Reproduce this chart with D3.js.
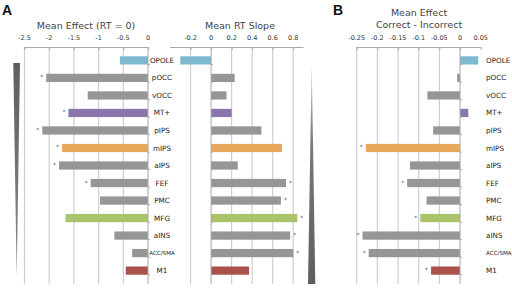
<!DOCTYPE html>
<html>
<head>
<meta charset="utf-8">
<script src="https://cdn.jsdelivr.net/npm/d3@7"></script>
<style>
  body { margin: 0; background: #fff; }
  svg { display: block; font-family: "DejaVu Sans", Verdana, sans-serif; }
</style>
</head>
<body>
<svg id="chart" width="512" height="291"></svg>
<script>
// regions, top to bottom
const regions = ["OPOLE", "pOCC", "vOCC", "MT+", "pIPS", "mIPS", "aIPS", "FEF", "PMC", "MFG", "aINS", "ACC/SMA", "M1"];
// mean effect at RT = 0
const meanEffect = [-0.57, -2.06, -1.22, -1.61, -2.14, -1.74, -1.80, -1.16, -0.97, -1.67, -0.68, -0.32, -0.45];
// mean RT slope
const rtSlope = [-0.30, 0.23, 0.15, 0.20, 0.49, 0.69, 0.26, 0.73, 0.68, 0.84, 0.77, 0.80, 0.37];
// correct - incorrect
const corrIncorr = [0.044, -0.007, -0.079, 0.020, -0.065, -0.228, -0.121, -0.128, -0.081, -0.096, -0.236, -0.221, -0.070];
// significant regions (asterisks)
const sigEffect = ["pOCC", "MT+", "pIPS", "mIPS", "aIPS", "FEF"];
const sigSlope = ["FEF", "PMC", "MFG", "aINS", "ACC/SMA"];
const sigCorr = ["mIPS", "FEF", "MFG", "aINS", "ACC/SMA", "M1"];
// tick labels
const ticksEffect = [-2.5, -2, -1.5, -1, -0.5, 0];
const ticksSlope = [-0.2, 0, 0.2, 0.4, 0.6, 0.8];
const ticksCorr = [-0.25, -0.2, -0.15, -0.1, -0.05, 0, 0.05];

const regionColor = {
    "OPOLE": "#7db9d1",
    "MT+": "#8b75ae",
    "mIPS": "#e8a85b",
    "MFG": "#a9c46b",
    "M1": "#a9524b"
};
const grayBar = "#969696";
const gridColor = "#cfcfcf";
const axisColor = "#a8a8a8";

const svg = d3.select("#chart");

const plotTop = 47, plotBottom = 284;
const y = d3.scaleBand().domain(regions).range([plotTop, plotBottom]).padding(0.53);

const defs = svg.append("defs");
const gradDown = defs.append("linearGradient").attr("id", "wedgeDown")
    .attr("x1", 0).attr("y1", 0).attr("x2", 0).attr("y2", 1);
gradDown.append("stop").attr("offset", "0%").attr("stop-color", "#5e5e5e");
gradDown.append("stop").attr("offset", "100%").attr("stop-color", "#8a8a8a");
const gradUp = defs.append("linearGradient").attr("id", "wedgeUp")
    .attr("x1", 0).attr("y1", 0).attr("x2", 0).attr("y2", 1);
gradUp.append("stop").attr("offset", "0%").attr("stop-color", "#d5d5d5");
gradUp.append("stop").attr("offset", "35%").attr("stop-color", "#7a7a7a");
gradUp.append("stop").attr("offset", "100%").attr("stop-color", "#5e5e5e");

// draws one bar panel
const drawPanel = (cfg) => {
    const x = d3.scaleLinear().domain(cfg.domain).range(cfg.range);
    const g = svg.append("g");

    // gridlines
    g.selectAll("line.grid")
        .data(cfg.ticks.filter(t => t !== 0 && !cfg.noGrid.includes(t)))
        .enter().append("line")
        .attr("x1", d => x(d)).attr("x2", d => x(d))
        .attr("y1", plotTop).attr("y2", plotBottom)
        .attr("stroke", gridColor).attr("stroke-width", 1.2);

    // top axis
    const axis = d3.axisBottom(x).tickValues(cfg.ticks).tickSize(3).tickFormat(d => String(d));
    const ag = g.append("g").attr("transform", `translate(0,${plotTop})`).call(axis);
    ag.select(".domain").attr("stroke", axisColor).attr("d", `M${cfg.range[0]},0.5H${cfg.range[1]}`);
    ag.selectAll(".tick line").attr("stroke", axisColor);
    ag.selectAll(".tick text").remove();
    g.selectAll("text.tick")
        .data(cfg.ticks)
        .enter().append("text")
        .attr("x", d => x(d)).attr("y", plotTop - 7)
        .attr("text-anchor", "middle")
        .attr("font-size", 6.5).attr("fill", "#333")
        .text(d => String(d));

    // bars
    g.selectAll("rect.bar")
        .data(cfg.values)
        .enter().append("rect")
        .attr("x", d => x(Math.min(0, d)))
        .attr("width", d => Math.abs(x(d) - x(0)))
        .attr("y", (d, i) => y(regions[i]))
        .attr("height", y.bandwidth())
        .attr("fill", (d, i) => regionColor[regions[i]] || grayBar);

    // zero axis with minor ticks between rows
    g.append("line")
        .attr("x1", x(0)).attr("x2", x(0)).attr("y1", plotTop).attr("y2", plotBottom)
        .attr("stroke", axisColor).attr("stroke-width", 1);
    g.selectAll("line.minor")
        .data(d3.range(1, regions.length + 1))
        .enter().append("line")
        .attr("x1", x(0)).attr("x2", x(0) + 2)
        .attr("y1", i => plotTop + i * y.step()).attr("y2", i => plotTop + i * y.step())
        .attr("stroke", axisColor);

    // asterisks
    g.selectAll("text.star")
        .data(cfg.values.map((v, i) => ({v, r: regions[i]})).filter(d => cfg.sig.includes(d.r)))
        .enter().append("text")
        .attr("x", d => x(d.v) + (d.v < 0 ? -4.5 : 4.5))
        .attr("y", d => y(d.r) + y.bandwidth() / 2 + 1.5)
        .attr("text-anchor", "middle")
        .attr("font-size", 6).attr("fill", "#555")
        .text("*");

    // title
    cfg.title.forEach((t, i) => {
        svg.append("text")
            .attr("x", cfg.titleX).attr("y", cfg.titleY + i * 12)
            .attr("text-anchor", "middle")
            .attr("font-size", 9.5).attr("fill", "#444")
            .text(t);
    });
    return x;
};

drawPanel({
    domain: [-2.5, 0], range: [24.5, 148], ticks: ticksEffect, noGrid: [],
    values: meanEffect, sig: sigEffect, title: ["Mean Effect (RT = 0)"], titleX: 86, titleY: 29
});
drawPanel({
    domain: [-0.4, 0.9], range: [170, 303.5], ticks: ticksSlope, noGrid: [],
    values: rtSlope, sig: sigSlope, title: ["Mean RT Slope"], titleX: 240, titleY: 29
});
drawPanel({
    domain: [-0.25, 0.05], range: [356.7, 480.7], ticks: ticksCorr, noGrid: [0.05],
    values: corrIncorr, sig: sigCorr, title: ["Mean Effect", "Correct - Incorrect"], titleX: 419, titleY: 16
});

// region labels
const labelText = (xPos, anchor) => {
    svg.append("g").selectAll("text")
        .data(regions)
        .enter().append("text")
        .attr("x", xPos)
        .attr("y", d => y(d) + y.bandwidth() / 2)
        .attr("dy", "0.35em")
        .attr("text-anchor", anchor)
        .attr("font-size", d => d === "ACC/SMA" ? 5.6 : 7.2)
        .attr("fill", "#222")
        .text(d => d);
};
labelText(162, "middle");
labelText(486, "start");

// wedges
svg.append("path")
    .attr("d", "M13.3,63L20,63L16.7,278Z")
    .attr("fill", "url(#wedgeDown)");
svg.append("path")
    .attr("d", "M311.7,63L315.3,284L308,284Z")
    .attr("fill", "url(#wedgeUp)");

// panel letters
svg.append("text").attr("x", 2).attr("y", 15)
    .attr("font-family", "Liberation Sans, Arial, sans-serif")
    .attr("font-weight", "bold").attr("font-size", 14).attr("fill", "#111").text("A");
svg.append("text").attr("x", 333).attr("y", 15)
    .attr("font-family", "Liberation Sans, Arial, sans-serif")
    .attr("font-weight", "bold").attr("font-size", 14).attr("fill", "#111").text("B");
</script>
</body>
</html>
